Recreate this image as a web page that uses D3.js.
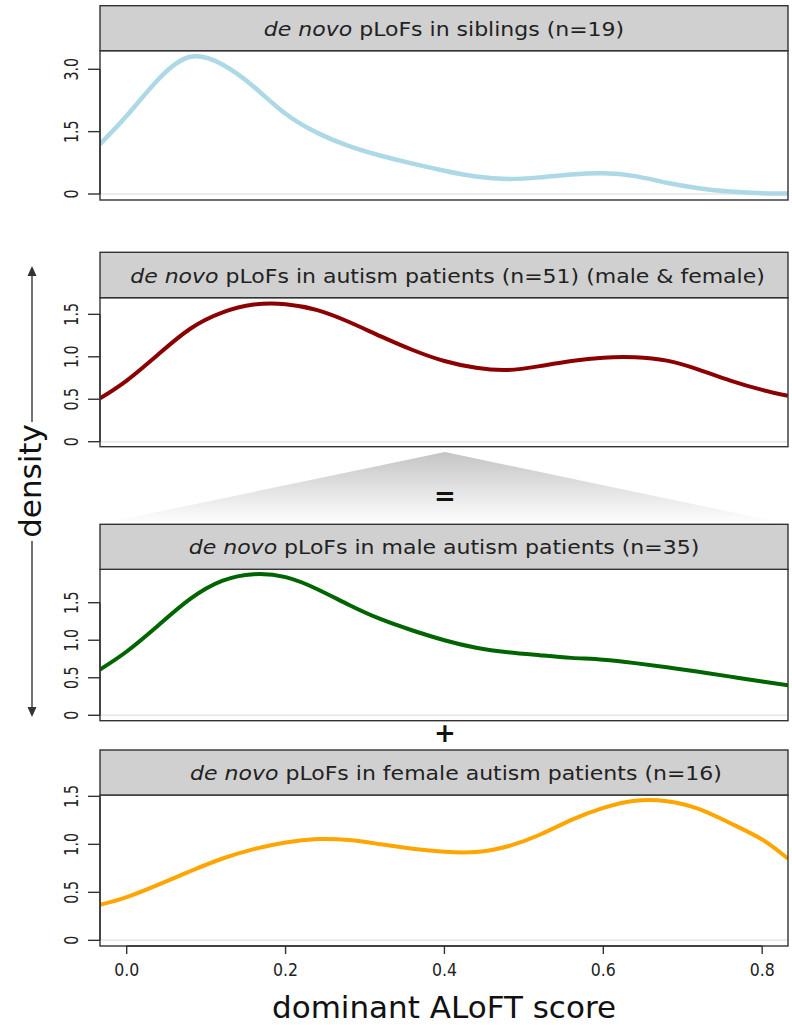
<!DOCTYPE html>
<html>
<head>
<meta charset="utf-8">
<script src="https://cdn.jsdelivr.net/npm/d3@7"></script>
<style>
  html, body { margin: 0; padding: 0; background: #fff; }
  svg { display: block; font-family: "DejaVu Sans", sans-serif; }
</style>
</head>
<body>
<svg id="chart" width="792" height="1025"></svg>
<script>
// Shared grid of dominant ALoFT scores at which each density is evaluated
const score = [-0.0336, 0.00, 0.04, 0.08, 0.12, 0.16, 0.20, 0.24, 0.28, 0.32, 0.36, 0.40,
               0.44, 0.48, 0.52, 0.56, 0.60, 0.64, 0.68, 0.72, 0.76, 0.80, 0.8325];

// Kernel density estimates for each group
const densSiblings = [1.20, 1.88, 2.76, 3.30, 3.12, 2.58, 1.93, 1.47, 1.15, 0.92, 0.73, 0.56,
                      0.42, 0.36, 0.40, 0.47, 0.50, 0.43, 0.27, 0.14, 0.06, 0.02, 0.01];
const densAutism   = [0.51, 0.72, 1.03, 1.33, 1.52, 1.615, 1.62, 1.55, 1.41, 1.24, 1.08, 0.95,
                      0.87, 0.845, 0.89, 0.95, 0.99, 0.995, 0.955, 0.85, 0.72, 0.61, 0.54];
const densMale     = [0.61, 0.85, 1.20, 1.55, 1.79, 1.88, 1.84, 1.68, 1.47, 1.28, 1.13, 1.00,
                      0.90, 0.84, 0.80, 0.765, 0.74, 0.695, 0.64, 0.58, 0.515, 0.45, 0.40];
const densFemale   = [0.37, 0.45, 0.58, 0.72, 0.85, 0.95, 1.02, 1.055, 1.045, 1.00, 0.955, 0.923,
                      0.92, 0.98, 1.10, 1.255, 1.38, 1.455, 1.45, 1.37, 1.22, 1.05, 0.85];

// Panel titles (first two words set in italics)
const titleItalic = "de novo";
const titles = [
  " pLoFs in siblings (n=19)",
  " pLoFs in autism patients (n=51) (male & female)",
  " pLoFs in male autism patients (n=35)",
  " pLoFs in female autism patients (n=16)"
];

// Axis ticks
const yTicksPanel = [[0, 1.5, 3.0], [0, 0.5, 1.0, 1.5], [0, 0.5, 1.0, 1.5], [0, 0.5, 1.0, 1.5]];
const yTickLabel = v => v === 0 ? "0" : v.toFixed(1);
const xTicks = [0.0, 0.2, 0.4, 0.6, 0.8];
const xTickLabels = ["0.0", "0.2", "0.4", "0.6", "0.8"];

const series = [densSiblings, densAutism, densMale, densFemale];
const colors = ["#add8e6", "#8b0000", "#006400", "#ffa500"];
const lineWidths = [4.5, 4, 4, 4];

// Panel geometry: header top, plot top (header bottom), plot bottom, y domain
const layout = [
  { head: 5.7,   top: 50.7,  bottom: 200,   dom: [-0.144, 3.447], titleX: 444 },
  { head: 252.3, top: 297.7, bottom: 446.7, dom: [-0.059, 1.696], titleX: 447.5 },
  { head: 524.3, top: 569.3, bottom: 720.7, dom: [-0.072, 1.945], titleX: 444 },
  { head: 750,   top: 795,   bottom: 946,   dom: [-0.059, 1.514], titleX: 456 }
];

const left = 100, right = 788;
const frame = "#333";
const svg = d3.select("#chart");

const x = d3.scaleLinear().domain([-0.0336, 0.8325]).range([left, right]);

const defs = svg.append("defs");
layout.forEach((p, i) => {
  defs.append("clipPath").attr("id", "clip" + i)
    .append("rect").attr("x", left).attr("y", p.top)
    .attr("width", right - left).attr("height", p.bottom - p.top);
});

// Shaded wedge linking the combined panel to the male / female breakdown
const grad = defs.append("linearGradient").attr("id", "wedge")
  .attr("x1", 0).attr("y1", 0).attr("x2", 0).attr("y2", 1);
grad.append("stop").attr("offset", "0%").attr("stop-color", "#c4c4c4");
grad.append("stop").attr("offset", "100%").attr("stop-color", "#ffffff");
svg.append("path")
  .attr("d", `M445,452 L${right},524 L${left},524 Z`)
  .attr("fill", "url(#wedge)");

svg.append("text").attr("x", 445).attr("y", 505)
  .attr("text-anchor", "middle").attr("font-size", 26).attr("font-weight", "bold")
  .attr("fill", "#111").text("=");
svg.append("text").attr("x", 445).attr("y", 742)
  .attr("text-anchor", "middle").attr("font-size", 26).attr("font-weight", "bold")
  .attr("fill", "#111").text("+");

layout.forEach((p, i) => {
  const y = d3.scaleLinear().domain(p.dom).range([p.bottom, p.top]);
  const g = svg.append("g");

  // zero reference line
  g.append("line")
    .attr("x1", left).attr("x2", right)
    .attr("y1", y(0)).attr("y2", y(0))
    .attr("stroke", "#e6e6e6").attr("stroke-width", 1.5);

  // density curve
  const line = d3.line()
    .x((d, k) => x(score[k]))
    .y(d => y(d))
    .curve(d3.curveNatural);
  g.append("path")
    .attr("clip-path", `url(#clip${i})`)
    .attr("d", line(series[i]))
    .attr("fill", "none")
    .attr("stroke", colors[i])
    .attr("stroke-width", lineWidths[i])
    .attr("stroke-linejoin", "round");

  // plot frame
  g.append("rect")
    .attr("x", left).attr("y", p.top)
    .attr("width", right - left).attr("height", p.bottom - p.top)
    .attr("fill", "none").attr("stroke", frame).attr("stroke-width", 1.4);

  // header strip
  g.append("rect")
    .attr("x", left).attr("y", p.head)
    .attr("width", right - left).attr("height", p.top - p.head)
    .attr("fill", "#d0d0d0").attr("stroke", frame).attr("stroke-width", 1.4);

  const t = g.append("text")
    .attr("transform", `translate(${p.titleX},${(p.head + p.top) / 2 + 7.5}) scale(1.1,1)`)
    .attr("text-anchor", "middle").attr("font-size", 20).attr("fill", "#222");
  t.append("tspan").attr("font-style", "italic").text(titleItalic);
  t.append("tspan").text(titles[i]);

  // y axis ticks and rotated labels
  const ticks = yTicksPanel[i];
  g.selectAll(".yt").data(ticks).join("line")
    .attr("x1", left - 12).attr("x2", left)
    .attr("y1", d => y(d)).attr("y2", d => y(d))
    .attr("stroke", frame).attr("stroke-width", 1.4);
  g.append("line")
    .attr("x1", left).attr("x2", left)
    .attr("y1", y(ticks[0])).attr("y2", y(ticks[ticks.length - 1]))
    .attr("stroke", frame).attr("stroke-width", 1.4);
  g.selectAll(".yl").data(ticks).join("text")
    .attr("transform", d => `translate(77.5,${y(d)}) rotate(-90) scale(0.75,1)`)
    .attr("text-anchor", "middle").attr("font-size", 19).attr("fill", "#222")
    .text(yTickLabel);
});

// x axis under the last panel
const xb = layout[3].bottom;
const xg = svg.append("g");
xg.append("line").attr("x1", x(0)).attr("x2", x(0.8)).attr("y1", xb).attr("y2", xb)
  .attr("stroke", frame).attr("stroke-width", 1.4);
xg.selectAll(".xt").data(xTicks).join("line")
  .attr("x1", d => x(d)).attr("x2", d => x(d))
  .attr("y1", xb).attr("y2", xb + 8)
  .attr("stroke", frame).attr("stroke-width", 1.4);
xg.selectAll(".xl").data(xTicks).join("text")
  .attr("transform", d => `translate(${x(d)},976) scale(0.9,1)`)
  .attr("text-anchor", "middle").attr("font-size", 17.5).attr("fill", "#222")
  .text((d, k) => xTickLabels[k]);

svg.append("text")
  .attr("x", 444).attr("y", 1018)
  .attr("text-anchor", "middle").attr("font-size", 31).attr("fill", "#111")
  .text("dominant ALoFT score");

// y axis title with double-headed arrow
const ax = 32, aTop = 266, aBot = 717;
svg.append("line").attr("x1", ax).attr("x2", ax).attr("y1", aTop + 6).attr("y2", 422)
  .attr("stroke", "#444").attr("stroke-width", 1.5);
svg.append("line").attr("x1", ax).attr("x2", ax).attr("y1", 541).attr("y2", aBot - 6)
  .attr("stroke", "#444").attr("stroke-width", 1.5);
svg.append("path").attr("d", `M${ax},${aTop} L${ax - 4.5},${aTop + 10} L${ax + 4.5},${aTop + 10} Z`)
  .attr("fill", "#333");
svg.append("path").attr("d", `M${ax},${aBot} L${ax - 4.5},${aBot - 10} L${ax + 4.5},${aBot - 10} Z`)
  .attr("fill", "#333");
svg.append("text")
  .attr("transform", "translate(41,481) rotate(-90)")
  .attr("text-anchor", "middle").attr("font-size", 31).attr("fill", "#111")
  .text("density");
</script>
</body>
</html>
